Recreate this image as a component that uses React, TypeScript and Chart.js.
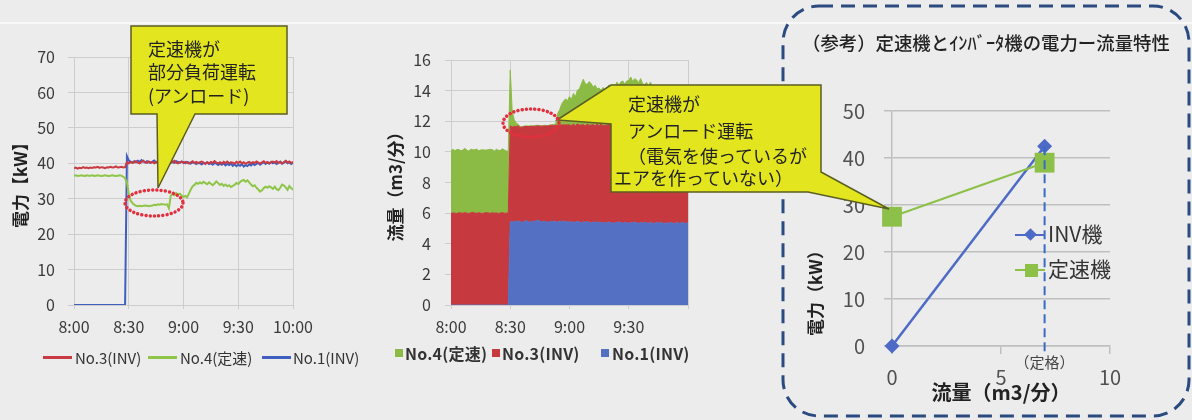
import React, { useEffect, useRef } from 'react';
import { Chart, registerables } from 'chart.js';

Chart.register(...registerables);

const FONT = "'Noto Sans CJK JP', 'Noto Sans', sans-serif";
const INK = '#222222';
const TICK = '#3a3a3a';
const GRID = '#cdcdcd';
const GRID3 = '#bfbfbf';
const BG = '#ececec';

// ---- 電力 [kW], one reading per minute from 8:00 (index 0) to 10:00 (index 120)
const powerNo3 = [
  38.6, 38.8, 38.5, 38.7, 38.6, 38.9, 38.7, 38.8, 38.6, 38.8,
  38.7, 38.9, 38.8, 39.0, 38.7, 38.9, 38.8, 38.6, 38.9, 38.8,
  39.0, 38.8, 38.9, 39.1, 38.8, 38.9, 39.0, 38.8, 38.9, 40.3,
  40.0, 40.4, 40.1, 40.3, 40.6, 40.2, 40.0, 40.4, 40.7, 40.3,
  40.1, 40.5, 40.2, 40.4, 40.0, 40.3, 40.6, 40.1, 40.4, 40.2,
  40.5, 40.0, 40.3, 40.1, 40.4, 40.7, 40.2, 40.0, 40.3, 40.5,
  40.1, 40.4, 40.2, 39.9, 40.3, 40.6, 40.1, 40.4, 40.0, 40.3,
  40.5, 40.2, 39.8, 40.3, 40.0, 40.4, 40.1, 40.6, 40.2, 40.0,
  40.3, 39.9, 40.4, 40.1, 40.5, 40.0, 40.3, 40.2, 39.9, 40.4,
  40.1, 40.5, 40.0, 40.3, 39.8, 40.2, 40.4, 40.0, 40.3, 40.1,
  40.5, 40.2, 39.9, 40.3, 40.6, 40.1, 40.4, 40.0, 40.3, 40.5,
  40.2, 40.6, 40.1, 40.4, 40.0, 40.3, 40.7, 40.2, 40.5, 40.1,
  40.4,
];
const powerNo4 = [
  36.5, 36.6, 36.4, 36.5, 36.6, 36.5, 36.4, 36.6, 36.5, 36.5,
  36.6, 36.4, 36.5, 36.6, 36.5, 36.4, 36.5, 36.6, 36.5, 36.4,
  36.5, 36.6, 36.5, 36.4, 36.5, 36.6, 36.5, 36.2, 35.8, 34.5,
  31.5, 29.5, 28.8, 28.3, 28.0, 27.9, 28.0, 27.9, 28.0, 28.1,
  28.0, 27.9, 28.0, 28.1, 28.3, 28.2, 28.4, 28.3, 28.5, 28.4,
  28.3, 28.4, 27.3, 30.8, 31.3, 31.0, 31.6, 31.2, 31.4, 30.9,
  30.5, 30.8, 30.4, 31.5, 32.6, 33.5, 33.9, 34.5, 34.2, 34.6,
  34.3, 34.8, 34.4, 34.1, 34.6, 34.2, 33.8, 34.3, 34.9, 34.4,
  33.9, 34.2, 33.6, 34.0, 33.5, 33.8, 33.3, 33.6, 33.9, 34.5,
  34.1, 34.7, 35.1, 35.3, 34.8, 35.2, 34.6, 34.0, 33.5, 33.8,
  33.1, 32.6, 32.0, 32.4, 33.0, 33.4, 33.1, 33.5, 33.2, 32.8,
  33.4, 32.7, 32.4, 33.1, 34.0, 33.7, 33.2, 32.5, 33.6, 33.0,
  32.5,
];
const powerNo1 = [
  0, 0, 0, 0, 0, 0, 0, 0, 0, 0,
  0, 0, 0, 0, 0, 0, 0, 0, 0, 0,
  0, 0, 0, 0, 0, 0, 0, 0, 0, 42.0,
  40.8, 40.5, 40.2, 40.6, 40.3, 40.7, 40.4, 40.9, 40.5, 40.2,
  40.6, 40.3, 40.1, 40.5, 40.8, 40.2, 40.4, 40.0, 40.6, 40.3,
  40.7, 40.2, 40.5, 40.9, 40.3, 40.1, 40.6, 40.4, 40.2, 40.5,
  40.3, 40.0, 40.4, 40.2, 39.9, 40.3, 40.1, 39.8, 40.2, 40.0,
  39.7, 40.1, 39.9, 40.3, 39.8, 40.0, 39.6, 40.1, 39.9, 39.5,
  39.9, 39.6, 40.0, 39.4, 39.8, 39.5, 39.9, 39.3, 39.7, 39.2,
  39.6, 39.3, 39.8, 39.1, 39.5, 39.2, 39.7, 39.4, 39.9, 39.5,
  39.8, 40.1, 39.6, 40.0, 40.3, 39.8, 40.2, 39.9, 40.4, 40.0,
  40.3, 39.8, 40.1, 40.5, 39.9, 40.2, 40.6, 40.0, 40.3, 39.8,
  40.1,
];

// ---- 流量 [m3/分], stacked, one reading per minute from 8:00 to 10:00
const flowNo1 = [
  0, 0, 0, 0, 0, 0, 0, 0, 0, 0,
  0, 0, 0, 0, 0, 0, 0, 0, 0, 0,
  0, 0, 0, 0, 0, 0, 0, 0, 0, 0,
  5.45, 5.40, 5.48, 5.42, 5.50, 5.44, 5.38, 5.46, 5.52, 5.45,
  5.40, 5.47, 5.43, 5.50, 5.55, 5.46, 5.41, 5.48, 5.44, 5.39,
  5.46, 5.42, 5.49, 5.44, 5.40, 5.47, 5.43, 5.50, 5.45, 5.41,
  5.46, 5.38, 5.44, 5.40, 5.47, 5.42, 5.36, 5.44, 5.39, 5.45,
  5.40, 5.35, 5.42, 5.38, 5.44, 5.37, 5.41, 5.34, 5.40, 5.36,
  5.42, 5.37, 5.33, 5.40, 5.36, 5.43, 5.38, 5.34, 5.41, 5.37,
  5.33, 5.40, 5.35, 5.42, 5.37, 5.32, 5.39, 5.35, 5.41, 5.36,
  5.33, 5.40, 5.36, 5.31, 5.38, 5.34, 5.41, 5.35, 5.30, 5.37,
  5.33, 5.39, 5.34, 5.30, 5.38, 5.35, 5.32, 5.40, 5.36, 5.31,
  5.37,
];
const flowNo3 = [
  5.98, 6.02, 6.00, 5.97, 6.03, 6.01, 5.99, 6.04, 6.00, 5.98,
  6.02, 6.05, 6.01, 5.99, 6.03, 6.00, 5.97, 6.02, 6.04, 6.01,
  5.99, 6.03, 6.00, 6.02, 5.98, 6.01, 6.04, 6.00, 5.99, 6.02,
  6.25, 6.22, 6.18, 6.24, 6.20, 6.16, 6.23, 6.19, 6.14, 6.21,
  6.26, 6.20, 6.24, 6.18, 6.15, 6.22, 6.27, 6.21, 6.25, 6.30,
  6.26, 6.32, 6.24, 6.29, 6.35, 6.28, 6.33, 6.27, 6.31, 6.36,
  6.30, 6.34, 6.38, 6.31, 6.36, 6.33, 6.39, 6.35, 6.30, 6.37,
  6.34, 6.40, 6.36, 6.32, 6.38, 6.35, 6.41, 6.37, 6.33, 6.39,
  6.36, 6.42, 6.38, 6.34, 6.40, 6.37, 6.43, 6.39, 6.35, 6.41,
  6.38, 6.44, 6.40, 6.36, 6.42, 6.39, 6.45, 6.41, 6.37, 6.43,
  6.40, 6.46, 6.42, 6.38, 6.44, 6.41, 6.47, 6.43, 6.39, 6.45,
  6.41, 6.44, 6.40, 6.46, 6.42, 6.38, 6.44, 6.41, 6.45, 6.40,
  6.42,
];
const flowNo4 = [
  4.10, 4.15, 4.08, 4.18, 4.12, 4.06, 4.14, 4.20, 4.11, 4.07,
  4.16, 4.09, 4.13, 4.19, 4.05, 4.12, 4.17, 4.10, 4.08, 4.14,
  4.18, 4.11, 4.06, 4.15, 4.12, 4.09, 4.16, 4.13, 4.07, 4.02,
  3.65, 1.00, 0.45, 0.22, 0.10, 0.05, 0.04, 0.03, 0.05, 0.02,
  0.04, 0.03, 0.02, 0.05, 0.03, 0.04, 0.02, 0.03, 0.05, 0.02,
  0.04, 0.03, 0.06, 0.10, 0.75, 1.00, 1.35, 1.55, 1.70, 1.58,
  1.85, 1.72, 2.00, 1.88, 2.20, 2.35, 2.70, 2.95, 2.75, 2.60,
  2.85, 2.70, 2.45, 2.65, 2.30, 2.45, 2.20, 2.50, 2.15, 2.40,
  2.60, 2.35, 2.70, 2.50, 2.80, 2.55, 2.75, 2.90, 2.65, 2.85,
  2.95, 3.05, 2.85, 3.00, 2.90, 2.80, 2.95, 2.70, 2.60, 2.75,
  2.55, 2.70, 2.45, 2.60, 2.40, 2.55, 2.35, 2.50, 2.30, 2.45,
  2.25, 2.40, 2.20, 2.35, 2.15, 2.30, 2.10, 2.25, 2.05, 2.20,
  2.15,
];

// ---- time axis labels (every 30 minutes)
const powerTimeLabels = ['8:00', '8:30', '9:00', '9:30', '10:00'];
const flowTimeLabels = ['8:00', '8:30', '9:00', '9:30'];

// ---- series names
const powerSeriesNames = ['No.3(INV)', 'No.4(定速)', 'No.1(INV)'];
const flowSeriesNames = ['No.4(定速)', 'No.3(INV)', 'No.1(INV)'];

// ---- 電力-流量特性
const charFlow = [0, 7];
const invPower = [0, 42.5];
const fixedPower = [27.5, 39];
const ratedFlow = 7;
const charSeriesNames = ['INV機', '定速機'];

// ---- colours
const RED_LINE = '#c93a42';
const GREEN_LINE = '#8fc548';
const BLUE_LINE = '#3f5ec0';
const RED_AREA = '#c63a3f';
const GREEN_AREA = '#8cbb45';
const BLUE_AREA = '#5470c3';
const BLUE3 = '#4d6bc6';
const GREEN3 = '#8dc048';
const DASH_BLUE = '#3a6bc4';
const CALLOUT_FILL = '#e3e61e';
const CALLOUT_EDGE = '#5b5e22';
const ELLIPSE_RED = '#e2303e';

const toPoints = (vals: number[]) => vals.map((v, i) => ({ x: i, y: v }));

function useChart(ref: any, build: () => any) {
  useEffect(() => {
    const chart = new Chart(ref.current, build());
    return () => chart.destroy();
  }, []);
}

function PowerChart() {
  const ref = useRef<HTMLCanvasElement>(null);
  useChart(ref, () => ({
    type: 'line',
    data: {
      datasets: [
        { label: powerSeriesNames[0], data: toPoints(powerNo3), borderColor: RED_LINE, borderWidth: 2, pointRadius: 0, tension: 0 },
        { label: powerSeriesNames[1], data: toPoints(powerNo4), borderColor: GREEN_LINE, borderWidth: 2, pointRadius: 0, tension: 0 },
        { label: powerSeriesNames[2], data: toPoints(powerNo1), borderColor: BLUE_LINE, borderWidth: 2, pointRadius: 0, tension: 0 },
      ],
    },
    options: {
      animation: false,
      responsive: false,
      maintainAspectRatio: false,
      layout: { padding: { top: 57, right: 47, left: 0, bottom: 0 } },
      plugins: { legend: { display: false }, tooltip: { enabled: false } },
      scales: {
        x: {
          type: 'linear', min: 0, max: 120,
          ticks: {
            stepSize: 30, autoSkip: false, maxRotation: 0, padding: 8, color: TICK,
            font: { family: FONT, size: 16 },
            callback: (v: any) => powerTimeLabels[Math.round(Number(v) / 30)] ?? '',
          },
          grid: { color: GRID, tickLength: 4 },
          border: { color: GRID },
          afterFit: (s: any) => { s.height = 40; },
        },
        y: {
          min: 0, max: 70,
          ticks: { stepSize: 10, padding: 13, color: TICK, font: { family: FONT, size: 16 } },
          grid: { color: GRID, tickLength: 6 },
          border: { color: GRID },
          title: {
            display: true, text: '電力【kW】', color: INK,
            font: { family: FONT, size: 17, weight: 'bold' },
            padding: { top: 10, bottom: 0 },
          },
          afterFit: (s: any) => { s.width = 74; },
        },
      },
    },
  }));
  return <canvas ref={ref} width={340} height={345} style={{ position: 'absolute', left: 0, top: 0, width: 340, height: 345 }} />;
}

function FlowChart() {
  const ref = useRef<HTMLCanvasElement>(null);
  useChart(ref, () => ({
    type: 'line',
    data: {
      datasets: [
        { label: flowSeriesNames[2], data: toPoints(flowNo1), borderColor: BLUE_AREA, backgroundColor: BLUE_AREA, borderWidth: 1, pointRadius: 0, tension: 0, fill: 'origin' },
        { label: flowSeriesNames[1], data: toPoints(flowNo3), borderColor: RED_AREA, backgroundColor: RED_AREA, borderWidth: 1, pointRadius: 0, tension: 0, fill: '-1' },
        { label: flowSeriesNames[0], data: toPoints(flowNo4), borderColor: GREEN_AREA, backgroundColor: GREEN_AREA, borderWidth: 1, pointRadius: 0, tension: 0, fill: '-1' },
      ],
    },
    options: {
      animation: false,
      responsive: false,
      maintainAspectRatio: false,
      layout: { padding: { top: 60, right: 22, left: 0, bottom: 0 } },
      plugins: { legend: { display: false }, tooltip: { enabled: false } },
      scales: {
        x: {
          type: 'linear', min: 0, max: 120,
          ticks: {
            stepSize: 30, autoSkip: false, maxRotation: 0, padding: 8, color: TICK,
            font: { family: FONT, size: 16 },
            callback: (v: any) => flowTimeLabels[Math.round(Number(v) / 30)] ?? '',
          },
          grid: { color: GRID, tickLength: 4 },
          border: { color: GRID },
          afterFit: (s: any) => { s.height = 40; },
        },
        y: {
          stacked: true, min: 0, max: 16,
          ticks: { stepSize: 2, padding: 14, color: TICK, font: { family: FONT, size: 16 } },
          grid: { color: GRID, tickLength: 6 },
          border: { color: GRID },
          title: {
            display: true, text: '流量（m3/分）', color: INK,
            font: { family: FONT, size: 17, weight: 'bold' },
            padding: { top: 15, bottom: 0 },
          },
          afterFit: (s: any) => { s.width = 81; },
        },
      },
    },
  }));
  return <canvas ref={ref} width={340} height={345} style={{ position: 'absolute', left: 370, top: 0, width: 340, height: 345 }} />;
}

// dashed rated-flow marker with its caption
const ratedFlowMarker = {
  id: 'ratedFlowMarker',
  afterDatasetsDraw(chart: any) {
    const { ctx, chartArea } = chart;
    const xs = chart.scales.x;
    const ys = chart.scales.y;
    const px = xs.getPixelForValue(ratedFlow);
    const top = ys.getPixelForValue(invPower[invPower.length - 1]);
    ctx.save();
    ctx.strokeStyle = DASH_BLUE;
    ctx.lineWidth = 2;
    ctx.setLineDash([9, 5]);
    ctx.beginPath();
    ctx.moveTo(px, top);
    ctx.lineTo(px, chartArea.bottom + 9);
    ctx.stroke();
    ctx.setLineDash([]);
    ctx.font = `15px ${FONT}`;
    ctx.fillStyle = '#444444';
    ctx.textAlign = 'center';
    ctx.textBaseline = 'middle';
    ctx.fillText('（定格）', px, chartArea.bottom + 16);
    ctx.restore();
  },
};

function CharacteristicChart() {
  const ref = useRef<HTMLCanvasElement>(null);
  useChart(ref, () => ({
    type: 'scatter',
    data: {
      datasets: [
        {
          label: charSeriesNames[1], data: charFlow.map((x, i) => ({ x, y: fixedPower[i] })),
          showLine: true, borderColor: GREEN3, backgroundColor: GREEN3, borderWidth: 2,
          pointStyle: 'rect', pointRadius: 14, pointBorderWidth: 0, order: 0, clip: false,
        },
        {
          label: charSeriesNames[0], data: charFlow.map((x, i) => ({ x, y: invPower[i] })),
          showLine: true, borderColor: BLUE3, backgroundColor: BLUE3, borderWidth: 2.5,
          pointStyle: 'rectRot', pointRadius: 7.5, pointBorderWidth: 0, order: 1, clip: false,
        },
      ],
    },
    options: {
      animation: false,
      responsive: false,
      maintainAspectRatio: false,
      layout: { padding: { top: 51, right: 70, left: 0, bottom: 0 } },
      plugins: { legend: { display: false }, tooltip: { enabled: false } },
      scales: {
        x: {
          type: 'linear', min: 0, max: 10,
          ticks: { stepSize: 5, padding: 11, color: '#505050', font: { family: FONT, size: 20 } },
          grid: { drawOnChartArea: false, tickLength: 8, color: GRID3, lineWidth: 1.5 },
          border: { color: GRID3, width: 1.5 },
          title: {
            display: true, text: '流量（m3/分）', color: INK,
            font: { family: FONT, size: 20, weight: 'bold' },
            padding: { top: 0, bottom: 1 },
          },
          afterFit: (s: any) => { s.height = 59; },
        },
        y: {
          min: 0, max: 50,
          ticks: { stepSize: 10, padding: 19, color: '#505050', font: { family: FONT, size: 20 } },
          grid: { color: GRID3, tickLength: 8, lineWidth: 1.5 },
          border: { color: GRID3, width: 1.5 },
          afterFit: (s: any) => { s.width = 102; },
        },
      },
    },
    plugins: [ratedFlowMarker],
  }));
  return <canvas ref={ref} width={390} height={345} style={{ position: 'absolute', left: 790, top: 60, width: 390, height: 345 }} />;
}

function Txt({ x, y, size, weight = 400, color = INK, spacing = 0, children }: any) {
  return (
    <div
      style={{
        position: 'absolute', left: x, top: y - size * 0.7, fontSize: size,
        lineHeight: `${size * 1.4}px`, fontWeight: weight, color, fontFamily: FONT,
        whiteSpace: 'nowrap', letterSpacing: spacing,
      }}
    >
      {children}
    </div>
  );
}

const powerColors = [RED_LINE, GREEN_LINE, BLUE_LINE];
const flowColors = [GREEN_AREA, RED_AREA, BLUE_AREA];

export default function App() {
  return (
    <div style={{ position: 'absolute', left: 0, top: 0, width: 1192, height: 420, background: BG, overflow: 'hidden', fontFamily: FONT }}>
      <div style={{ position: 'absolute', left: 0, top: 22, width: 1192, height: 2, background: '#f8f8f8' }} />

      <PowerChart />
      <FlowChart />
      <CharacteristicChart />

      {/* legend: power */}
      {powerSeriesNames.map((name, i) => (
        <React.Fragment key={name}>
          <div style={{ position: 'absolute', left: [43, 148, 262][i], top: 355.5, width: 29, height: 3, background: powerColors[i] }} />
          <Txt x={[75, 180, 293][i]} y={357} size={15} color="#333">{name}</Txt>
        </React.Fragment>
      ))}

      {/* legend: flow */}
      {flowSeriesNames.map((name, i) => (
        <React.Fragment key={name}>
          <div style={{ position: 'absolute', left: [395, 491.5, 600.5][i], top: 349, width: 8, height: 8, background: flowColors[i] }} />
          <Txt x={[405, 502, 612][i]} y={353} size={16} weight={700} color="#333" spacing={0.2}>{name}</Txt>
        </React.Fragment>
      ))}

      <svg width={1192} height={420} style={{ position: 'absolute', left: 0, top: 0, pointerEvents: 'none' }}>
        <rect x={783} y={6} width={406} height={410} rx={36} ry={36} fill="none" stroke="#2b4b80" strokeWidth={3} strokeDasharray="14 8" />
        <path d="M131,26 H287 V114 H195 L158,188 L157,114 H131 Z" fill={CALLOUT_FILL} stroke={CALLOUT_EDGE} strokeWidth={1.5} />
        <path d="M611,85 H821 V172 L889,209 L808,192 H611 V124 L557,120 Z" fill={CALLOUT_FILL} stroke={CALLOUT_EDGE} strokeWidth={1.5} />
        <ellipse cx={154} cy={203} rx={29} ry={13} fill="none" stroke={ELLIPSE_RED} strokeWidth={3.5} strokeLinecap="round" strokeDasharray="0.01 4.2" />
        <ellipse cx={531} cy={123} rx={28} ry={14} fill="none" stroke={ELLIPSE_RED} strokeWidth={3.5} strokeLinecap="round" strokeDasharray="0.01 4.2" />
      </svg>

      {/* callout texts */}
      <Txt x={148} y={49} size={18}>定速機が</Txt>
      <Txt x={148} y={72} size={18}>部分負荷運転</Txt>
      <Txt x={148} y={96} size={18}>(アンロード)</Txt>

      <Txt x={628} y={104} size={18}>定速機が</Txt>
      <Txt x={628} y={131} size={18}>アンロード運転</Txt>
      <Txt x={628} y={156} size={18}>（電気を使っているが</Txt>
      <Txt x={614} y={177.5} size={18}>エアを作っていない）</Txt>

      {/* characteristic panel title, axis title and legend */}
      <Txt x={802} y={43} size={18.4} weight={500}>（参考）定速機とｲﾝﾊﾞｰﾀ機の電力ー流量特性</Txt>
      <div
        style={{
          position: 'absolute', left: 815, top: 289, transform: 'translate(-50%, -50%) rotate(-90deg)',
          fontSize: 17, fontWeight: 700, color: INK, whiteSpace: 'nowrap', fontFamily: FONT, lineHeight: '20px',
        }}
      >
        電力（kW）
      </div>

      <div style={{ position: 'absolute', left: 1015, top: 233.75, width: 30, height: 2.5, background: BLUE3 }} />
      <div style={{ position: 'absolute', left: 1026, top: 230, width: 9, height: 9, background: BLUE3, transform: 'rotate(45deg)' }} />
      <Txt x={1048} y={234} size={21} color="#333">{charSeriesNames[0]}</Txt>

      <div style={{ position: 'absolute', left: 1015, top: 269, width: 30, height: 2, background: GREEN3 }} />
      <div style={{ position: 'absolute', left: 1024.5, top: 263.5, width: 13, height: 13, background: GREEN3 }} />
      <Txt x={1048} y={269} size={21} color="#333">{charSeriesNames[1]}</Txt>
    </div>
  );
}
